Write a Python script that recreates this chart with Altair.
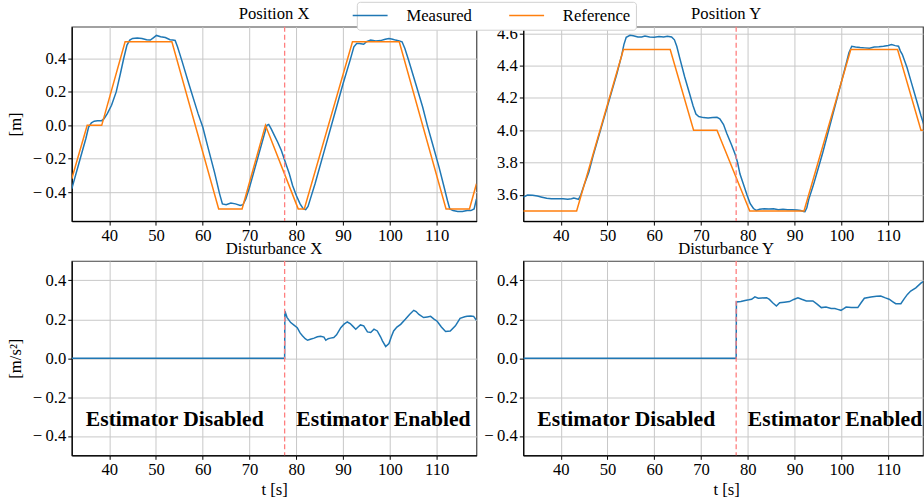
import altair as alt
import pandas as pd

FONT = "Liberation Serif"
BLUE = "#1f77b4"
ORANGE = "#ff7f0e"

# ---------------- data ----------------
# Reference trajectory (waypoints)
ref_t = [32.0, 35.3, 38.4, 43.4, 53.4, 63.4, 68.4, 73.4, 80.4, 81.7, 92.0, 102.0, 112.0, 117.0, 118.5]
ref_x = [-0.32, 0.0, 0.0, 0.5, 0.5, -0.5, -0.5, 0.0, -0.5, -0.5, 0.5, 0.5, -0.5, -0.5, -0.35]
ref_y = [3.5, 3.5, 3.5, 3.5, 4.5, 4.5, 4.0, 4.0, 3.5, 3.5, 3.5, 4.5, 4.5, 4.0, 4.0]

# Measured position X
mx_t = [32.0, 33.5, 35.0, 35.6, 36.2, 36.8, 37.5, 38.4, 38.9, 39.6, 40.5, 41.5, 42.4, 43.1, 43.8,
        44.4, 45.0, 46.0, 47.0, 48.0, 48.8, 49.5, 50.1, 51.0, 52.0, 53.0, 53.6, 54.1, 54.6, 55.5,
        57.0, 59.0, 60.0, 61.0, 62.5, 63.6, 64.2, 65.0, 66.0, 67.0, 68.0, 68.6, 69.2, 70.0, 71.0,
        72.0, 73.0, 73.7, 74.1, 74.6, 75.3, 76.0, 76.8, 77.4, 78.0, 78.5, 79.2, 80.0, 80.8, 81.5,
        82.0, 82.5, 83.0, 84.0, 86.0, 88.0, 90.0, 91.5, 92.3, 92.9, 93.5, 94.4, 95.0, 95.9, 97.0,
        98.0, 99.0, 99.8, 100.6, 101.2, 102.0, 102.6, 103.2, 104.0, 105.5, 107.0, 108.0, 109.0, 110.5,
        111.5, 112.3, 112.8, 113.5, 114.5, 115.5, 116.5, 117.3, 118.0, 118.5]
mx_v = [-0.38, -0.23, -0.08, -0.01, 0.015, 0.025, 0.028, 0.028, 0.04, 0.07, 0.12, 0.2, 0.31, 0.4, 0.48,
        0.51, 0.52, 0.522, 0.52, 0.512, 0.51, 0.525, 0.538, 0.53, 0.525, 0.512, 0.51, 0.508, 0.47, 0.39,
        0.25, 0.07, -0.01, -0.12, -0.28, -0.41, -0.47, -0.475, -0.465, -0.47, -0.48, -0.475, -0.44, -0.37, -0.27,
        -0.17, -0.07, 0.0, 0.005, -0.02, -0.06, -0.1, -0.15, -0.2, -0.25, -0.29, -0.36, -0.42, -0.47, -0.5,
        -0.505, -0.485, -0.44, -0.35, -0.15, 0.05, 0.25, 0.39, 0.47, 0.49, 0.49, 0.485, 0.5, 0.51, 0.505,
        0.507, 0.515, 0.52, 0.515, 0.51, 0.505, 0.5, 0.46, 0.39, 0.25, 0.11, 0.0, -0.1, -0.25,
        -0.36, -0.45, -0.5, -0.51, -0.515, -0.515, -0.51, -0.51, -0.5, -0.44]

# Measured position Y
my_t = [32.0, 32.9, 34.0, 35.0, 36.0, 37.0, 38.0, 39.5, 40.5, 41.5, 42.3, 42.8, 43.4, 43.8, 44.3,
        45.0, 46.0, 47.0, 48.0, 49.0, 50.0, 51.0, 52.0, 53.0, 53.5, 54.0, 54.8, 55.5, 56.5, 57.3,
        58.0, 59.0, 60.0, 61.0, 62.0, 62.8, 63.7, 64.3, 64.8, 65.5, 66.5, 67.5, 68.3, 68.9, 69.5,
        70.5, 71.5, 72.5, 73.4, 74.0, 74.8, 75.5, 76.5, 77.3, 77.8, 78.3, 79.0, 79.8, 80.5, 81.2,
        81.8, 82.5, 83.5, 84.5, 85.5, 86.5, 87.5, 88.5, 89.5, 90.5, 91.3, 91.9, 92.2, 92.6, 93.0,
        94.0, 95.0, 96.0, 97.0, 98.0, 99.0, 100.0, 101.0, 101.6, 102.2, 103.0, 104.0, 105.0, 106.0,
        107.0, 108.0, 109.0, 110.0, 110.7, 111.5, 112.2, 112.6, 113.0, 114.0, 115.0, 116.0, 117.0,
        118.0, 118.5]
my_v = [3.585, 3.598, 3.597, 3.592, 3.585, 3.578, 3.575, 3.576, 3.575, 3.572, 3.575, 3.58, 3.575, 3.572, 3.6,
        3.66, 3.74, 3.85, 3.95, 4.05, 4.15, 4.25, 4.35, 4.46, 4.53, 4.575, 4.588, 4.585, 4.578, 4.578,
        4.584, 4.578, 4.576, 4.58, 4.578, 4.582, 4.577, 4.56, 4.52, 4.44, 4.33, 4.23, 4.15, 4.1, 4.085,
        4.078, 4.075, 4.078, 4.08, 4.07, 4.035, 3.98, 3.91, 3.85, 3.8, 3.73, 3.67, 3.6, 3.545, 3.515,
        3.503, 3.51, 3.513, 3.512, 3.513, 3.508, 3.51, 3.508, 3.507, 3.506, 3.503, 3.497, 3.495, 3.52, 3.57,
        3.66, 3.76, 3.86, 3.97, 4.08, 4.19, 4.3, 4.41, 4.48, 4.52, 4.515, 4.512, 4.51, 4.508,
        4.515, 4.517, 4.52, 4.525, 4.53, 4.524, 4.52, 4.49, 4.47, 4.39, 4.29, 4.19, 4.09,
        4.0, 3.96]

# Disturbance X estimate
dx_t = [32.0, 77.5, 77.55, 78.0, 78.8, 79.5, 80.2, 80.8, 81.3, 81.9, 82.4, 83.0, 83.8, 84.5, 85.2,
        85.9, 86.3, 86.8, 87.3, 88.0, 88.6, 89.5, 90.2, 90.9, 91.5, 92.0, 92.7, 93.2, 93.7, 94.4,
        95.2, 95.9, 96.6, 97.3, 98.0, 98.4, 99.1, 99.8, 100.3, 100.8, 101.5, 102.3, 103.3, 104.2, 105.1,
        105.6, 106.2, 107.2, 108.0, 108.7, 109.5, 110.1, 111.0, 111.9, 112.9, 114.0, 115.0, 116.0, 116.5,
        117.3, 117.9, 118.5]
dx_v = [0.0, 0.0, 0.243, 0.21, 0.183, 0.17, 0.157, 0.13, 0.115, 0.1, 0.092, 0.097, 0.103, 0.11, 0.113,
        0.108, 0.092, 0.1, 0.103, 0.106, 0.12, 0.157, 0.175, 0.186, 0.178, 0.166, 0.149, 0.16, 0.171, 0.166,
        0.135, 0.132, 0.149, 0.14, 0.11, 0.089, 0.06, 0.075, 0.11, 0.14, 0.16, 0.174, 0.2, 0.225, 0.246,
        0.24, 0.225, 0.209, 0.212, 0.215, 0.2, 0.19, 0.16, 0.137, 0.14, 0.166, 0.205, 0.213, 0.215,
        0.217, 0.215, 0.195]

# Disturbance Y estimate
dy_t = [32.0, 77.5, 77.55, 78.5, 79.4, 80.2, 80.8, 81.5, 82.2, 83.0, 84.0, 84.6, 85.3, 86.1, 86.8,
        87.8, 88.9, 89.8, 90.7, 91.5, 92.5, 93.9, 94.8, 95.7, 96.7, 97.8, 98.6, 99.2, 99.9, 100.5,
        101.0, 102.1, 103.5, 104.2, 104.9, 106.3, 107.5, 108.4, 109.4, 110.2, 111.0, 111.6, 112.7, 113.4,
        114.1, 114.8, 115.9, 117.1, 118.0, 118.5]
dy_v = [0.0, 0.0, 0.289, 0.292, 0.297, 0.3, 0.303, 0.315, 0.308, 0.31, 0.311, 0.302, 0.285, 0.268, 0.285,
        0.288, 0.291, 0.302, 0.311, 0.303, 0.294, 0.294, 0.278, 0.26, 0.263, 0.256, 0.255, 0.251, 0.246, 0.255,
        0.263, 0.26, 0.26, 0.285, 0.308, 0.315, 0.318, 0.32, 0.31, 0.303, 0.29, 0.28, 0.28, 0.305,
        0.328, 0.345, 0.362, 0.388, 0.4, 0.41]

switch_t = [77.5]
x_ticks = [40, 50, 60, 70, 80, 90, 100, 110]
pos_x_ticks = [-0.4, -0.2, 0.0, 0.2, 0.4]
pos_y_ticks = [3.6, 3.8, 4.0, 4.2, 4.4, 4.6]
dist_ticks = [-0.4, -0.2, 0.0, 0.2, 0.4]
labels_txt = ["Estimator Disabled", "Estimator Enabled"]
labels_t = [35.0, 80.0]
labels_y = [-0.35, -0.35]

# ---------------- chart ----------------
W_L, W_R, H = 406, 401, 195
PXU = W_L / (118.5 - 32.0)
X_DOM_L = [32.0, 118.5]
X_DOM_R = [32.0, 32.0 + W_R / PXU]
FS = 16.7

SERIES = ["Measured", "Reference"]
color = alt.Color(
    "series:N",
    scale=alt.Scale(domain=SERIES, range=[BLUE, ORANGE]),
    legend=alt.Legend(
        title=None, orient="none", direction="horizontal",
        legendX=286, legendY=-25,
        symbolType="M-3.5,0H3.5", symbolSize=100, symbolStrokeWidth=1.5,
        labelFont=FONT, labelFontSize=FS, labelColor="black",
        labelOffset=28, columnPadding=33, padding=5,
        fillColor="white", strokeColor="#d0d0d0", cornerRadius=3,
    ),
)

NEG_EXPR = "datum.value < 0 ? '\u2212\u2009' + format(-datum.value, '.1f') : format(datum.value, '.1f')"


def df(t, v, s):
    return pd.DataFrame({"t": t, "v": v, "series": s})


def axis(values, title, fmt=None, expr=None, title_x=None, orient_y=False):
    kw = dict(values=values, title=title, labelFont=FONT, labelFontSize=FS, labelColor="black",
              titleFont=FONT, titleFontSize=FS, titleColor="black", titleFontWeight="normal",
              grid=True, gridColor="#c8c8c8", gridWidth=1, domainColor="black", domainWidth=1.2,
              tickColor="black", tickSize=4, tickWidth=1, labelPadding=2)
    if fmt:
        kw["format"] = fmt
    if expr:
        kw["labelExpr"] = expr
    if title_x is not None:
        kw["titleX"] = title_x
    if orient_y:
        kw["titlePadding"] = 8
    return alt.Axis(**kw)


def panel(lines, title, xdom, ydom, yticks, ytitle, xtitle, width, signed, texts=False, right=False):
    xaxis = axis(x_ticks, xtitle, fmt="d", title_x=203.5 if (right and xtitle) else None)
    yaxis = axis(yticks, ytitle, expr=NEG_EXPR if signed else "format(datum.value, '.1f')", orient_y=True)
    xs = alt.X("t:Q", scale=alt.Scale(domain=xdom, nice=False, zero=False), axis=xaxis)
    ys = alt.Y("v:Q", scale=alt.Scale(domain=ydom, nice=False, zero=False), axis=yaxis)
    layers = []
    for d in lines:
        layers.append(alt.Chart(d).mark_line(strokeWidth=1.5, clip=True).encode(
            x=xs, y=ys, color=color))
    layers.append(alt.Chart(pd.DataFrame({"t": switch_t})).mark_rule(
        color="#ff7f7f", strokeWidth=1.3, strokeDash=[5, 3]).encode(x=xs))
    if texts:
        layers.append(alt.Chart(pd.DataFrame({"t": labels_t, "v": labels_y, "txt": labels_txt}))
                      .mark_text(font=FONT, fontSize=21.7, fontWeight="bold", align="left",
                                 baseline="alphabetic", color="black", clip=True)
                      .encode(x=xs, y=ys, text="txt:N"))
    t = alt.TitleParams(title, font=FONT, fontSize=FS, fontWeight="normal", color="black",
                        offset=3, dx=3 if right else 0)
    return alt.layer(*layers).properties(width=width, height=H, title=t)


tl = panel([df(mx_t, mx_v, "Measured"), df(ref_t, ref_x, "Reference")], "Position X",
           X_DOM_L, [-0.573, 0.59], pos_x_ticks, "[m]", None, W_L, True)
tr = panel([df(my_t, my_v, "Measured"), df(ref_t, ref_y, "Reference")], "Position Y",
           X_DOM_R, [3.437, 4.641], pos_y_ticks, None, None, W_R, False, right=True)
bl = panel([df(dx_t, dx_v, "Measured")], "Disturbance X",
           X_DOM_L, [-0.5, 0.5], dist_ticks, "[m/s\u00b2]", "t [s]", W_L, True, texts=True)
br = panel([df(dy_t, dy_v, "Measured")], "Disturbance Y",
           X_DOM_R, [-0.5, 0.5], dist_ticks, None, "t [s]", W_R, True, texts=True, right=True)

chart = alt.concat(tl, tr, bl, br, columns=2, spacing={"row": 40, "column": 47},
                   bounds="flush").configure(
    padding={"left": 6, "top": 0, "right": 0, "bottom": 0},
    font=FONT,
    style={"guide-label": {"font": FONT, "fontSize": FS, "fill": "black"},
           "guide-title": {"font": FONT, "fontSize": FS, "fill": "black", "fontWeight": "normal"}},
).configure_view(
    stroke="#444444", strokeWidth=1.2
)

chart.save("out.html", embed_options={"renderer": "svg", "actions": False})
